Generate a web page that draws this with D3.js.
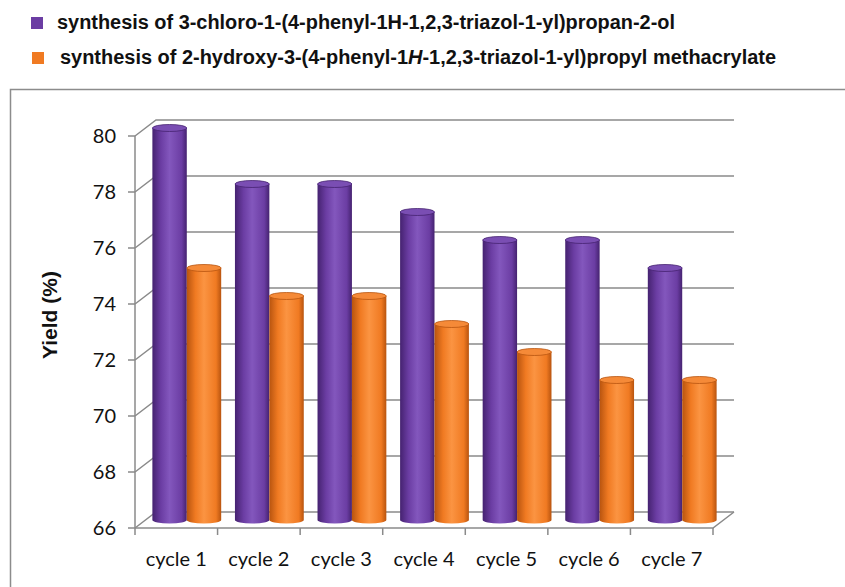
<!DOCTYPE html>
<html>
<head>
<meta charset="utf-8">
<script src="https://cdn.jsdelivr.net/npm/d3@7/dist/d3.min.js"></script>
<style>
  html, body { margin: 0; padding: 0; background: #fff; }
  svg { display: block; }
</style>
</head>
<body>
<svg id="chart" width="845" height="587"></svg>
<script>
// Catalyst recycling yields for the two syntheses
const cycles = ["cycle 1", "cycle 2", "cycle 3", "cycle 4", "cycle 5", "cycle 6", "cycle 7"];
const chloroYield = [80, 78, 78, 77, 76, 76, 75];
const methacrylateYield = [75, 74, 74, 73, 72, 71, 71];
const yTicks = [66, 68, 70, 72, 74, 76, 78, 80];
const seriesNames = ["chloro", "methacrylate"];

const svg = d3.select("#chart");

// 3D frame geometry: front plane and a back wall offset by depth
const depth = { dx: 21, dy: -16 };
const x0 = 135, x1 = 713;
const y = d3.scaleLinear().domain([66, 80]).range([528, 136]);
const x = d3.scaleBand().domain(cycles).range([x0, x1]).paddingInner(0).paddingOuter(0);
const xs = d3.scaleBand().domain(seriesNames).range([0, x.bandwidth()]).paddingInner(0).paddingOuter(0.2);

const colors = {
  chloro: { light: "#8357bd", mid: "#6b3da3", dark: "#452270", top: "#7a4eb3" },
  methacrylate: { light: "#fb9442", mid: "#f07a22", dark: "#b8540f", top: "#f58a38" }
};

const defs = svg.append("defs");
seriesNames.forEach(s => {
  const g = defs.append("linearGradient").attr("id", "grad-" + s)
    .attr("x1", "0%").attr("x2", "100%").attr("y1", "0%").attr("y2", "0%");
  g.append("stop").attr("offset", "0%").attr("stop-color", colors[s].dark);
  g.append("stop").attr("offset", "25%").attr("stop-color", colors[s].mid);
  g.append("stop").attr("offset", "50%").attr("stop-color", colors[s].light);
  g.append("stop").attr("offset", "85%").attr("stop-color", colors[s].mid);
  g.append("stop").attr("offset", "100%").attr("stop-color", colors[s].dark);
});

// Outer chart border
svg.append("rect")
  .attr("x", 10.5).attr("y", 89.5).attr("width", 900).attr("height", 600)
  .attr("fill", "none").attr("stroke", "#8c8c8c").attr("stroke-width", 1.5);

const grid = svg.append("g").attr("stroke", "#8a8a8a").attr("stroke-width", 1.5).attr("fill", "none");

// Side wall diagonals and back wall gridlines
yTicks.forEach(t => {
  const yf = y(t);
  grid.append("path")
    .attr("d", `M${x0},${yf} L${x0 + depth.dx},${yf + depth.dy} L${x1 + depth.dx},${yf + depth.dy}`);
  // tick mark left of the value axis
  grid.append("line").attr("x1", x0 - 7).attr("x2", x0).attr("y1", yf).attr("y2", yf);
});

// Front value axis
grid.append("line").attr("x1", x0).attr("x2", x0).attr("y1", y(80)).attr("y2", y(66));
// Floor front edge and right diagonal
grid.append("path")
  .attr("d", `M${x0},${y(66)} L${x1},${y(66)} L${x1 + depth.dx},${y(66) + depth.dy}`);
// Category ticks
cycles.concat(["end"]).forEach((c, i) => {
  const xx = x0 + i * x.bandwidth();
  grid.append("line").attr("x1", xx).attr("x2", xx).attr("y1", y(66)).attr("y2", y(66) + 7);
});

// Value axis labels
svg.append("g").selectAll("text").data(yTicks).join("text")
  .attr("x", 116).attr("y", d => y(d))
  .attr("dy", "0.35em")
  .attr("text-anchor", "end")
  .attr("font-family", "Lato, 'Open Sans', sans-serif")
  .attr("font-size", 20)
  .attr("fill", "#111")
  .text(d => d);

// Category labels
svg.append("g").selectAll("text").data(cycles).join("text")
  .attr("x", d => x(d) + x.bandwidth() / 2)
  .attr("y", 566)
  .attr("text-anchor", "middle")
  .attr("font-family", "Lato, 'Open Sans', sans-serif")
  .attr("font-size", 20)
  .attr("fill", "#111")
  .text(d => d);

// Axis title
svg.append("text")
  .attr("transform", "translate(57,315) rotate(-90)")
  .attr("text-anchor", "middle")
  .attr("font-family", "'Liberation Sans', Arial, sans-serif")
  .attr("font-weight", "bold")
  .attr("font-size", 21)
  .attr("fill", "#111")
  .text("Yield (%)");

// Cylindrical bars placed at mid depth
const rows = [];
cycles.forEach((c, i) => {
  rows.push({ cycle: c, series: "chloro", value: chloroYield[i] });
  rows.push({ cycle: c, series: "methacrylate", value: methacrylateYield[i] });
});

const midX = depth.dx / 2, midY = depth.dy / 2;
const ry = 3.5;
const bars = svg.append("g").selectAll("g").data(rows).join("g")
  .attr("transform", d => `translate(${x(d.cycle) + xs(d.series) + midX},${midY})`);

bars.each(function(d) {
  const g = d3.select(this);
  const w = xs.bandwidth();
  const top = y(d.value), bottom = y(66);
  // body with rounded base
  g.append("path")
    .attr("d", `M0,${top} L0,${bottom} A${w / 2},${ry} 0 0 0 ${w},${bottom} L${w},${top} Z`)
    .attr("fill", `url(#grad-${d.series})`);
  // top cap
  g.append("ellipse")
    .attr("cx", w / 2).attr("cy", top).attr("rx", w / 2).attr("ry", ry)
    .attr("fill", colors[d.series].top)
    .attr("stroke", colors[d.series].dark).attr("stroke-width", 0.8);
});

// Legend
const legend = svg.append("g")
  .attr("font-family", "'Liberation Sans', Arial, sans-serif")
  .attr("font-weight", "bold")
  .attr("font-size", 19.5)
  .attr("fill", "#111");

legend.append("rect").attr("x", 31).attr("y", 17).attr("width", 12).attr("height", 12).attr("fill", "#6b3da3");
legend.append("rect").attr("x", 32).attr("y", 52).attr("width", 12).attr("height", 12).attr("fill", "#f07a22");

legend.append("text").attr("x", 57).attr("y", 29)
  .attr("textLength", 618).attr("lengthAdjust", "spacingAndGlyphs")
  .text("synthesis of 3-chloro-1-(4-phenyl-1H-1,2,3-triazol-1-yl)propan-2-ol");

const t2 = legend.append("text").attr("x", 60).attr("y", 64)
  .attr("textLength", 716).attr("lengthAdjust", "spacingAndGlyphs");
t2.append("tspan").text("synthesis of 2-hydroxy-3-(4-phenyl-1");
t2.append("tspan").attr("font-style", "italic").text("H");
t2.append("tspan").text("-1,2,3-triazol-1-yl)propyl methacrylate");
</script>
</body>
</html>
